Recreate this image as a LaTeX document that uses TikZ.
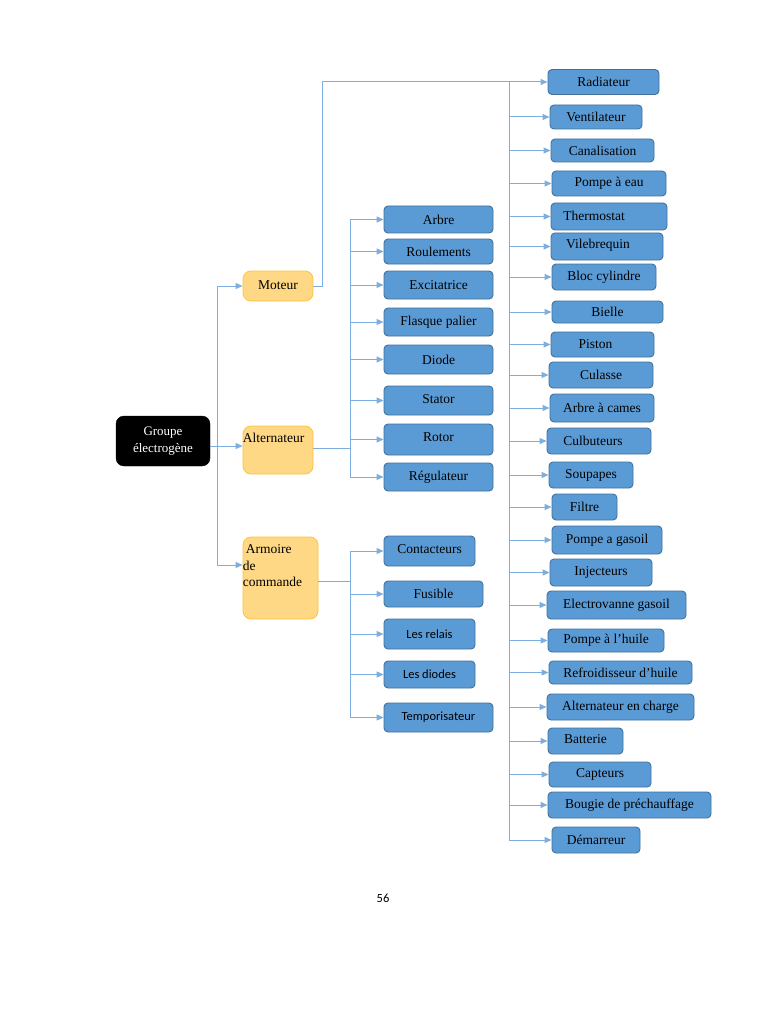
\documentclass[tikz,border=0pt]{standalone}
\usepackage{fontspec}
\setmainfont{Liberation Serif}
\newfontfamily\calfont{Carlito}
\usetikzlibrary{arrows.meta}
\definecolor{bfill}{HTML}{5B9BD5}
\definecolor{bdraw}{HTML}{41719C}
\definecolor{ofill}{HTML}{FFD885}
\definecolor{odraw}{HTML}{FFC43A}
\definecolor{conn}{HTML}{7EAEDD}
\begin{document}
\begin{tikzpicture}[x=1pt,y=-1pt,
  bb/.style={draw=bdraw, fill=bfill, rounded corners=4pt, line width=0.9pt, inner sep=0pt, font=\fontsize{13.5}{15}\selectfont},
  sb/.style={bb, font=\calfont\fontsize{12.5}{14}\selectfont},
  ob/.style={draw=odraw, fill=ofill, rounded corners=8pt, line width=0.8pt, inner sep=0pt, font=\fontsize{13.5}{16.5}\selectfont},
  rootbox/.style={draw=black, fill=black, rounded corners=8pt, inner sep=0pt, text=white, align=center, font=\fontsize{13}{17}\selectfont},
  ln/.style={draw=conn, line width=1pt},
  ar/.style={ln, -{Triangle[length=7pt,width=6pt]}},
]
\path[fill=white] (0,0) rectangle (768,1024);
\useasboundingbox (0,0) rectangle (768,1024);

% root and level 1
\node[rootbox, minimum width=94, minimum height=50] (root) at (163,441) {Groupe\\électrogène};
\node[ob, minimum width=70, minimum height=30] (moteur) at (278,286) {\raisebox{1.5pt}{Moteur}};
\node[ob, minimum width=70, minimum height=48,
  label={[anchor=north west, inner sep=0pt, font=\fontsize{13.5}{15}\selectfont, yshift=-7pt]north west:Alternateur}] (alt) at (278,450) {};
\node[ob, minimum width=75, minimum height=82,
  label={[anchor=north west, inner sep=0pt, align=left, font=\fontsize{13.5}{16.5}\selectfont, yshift=-8pt]north west:\hspace*{3pt}Armoire\\de\\commande}] (arm) at (280.5,578) {};

% middle column (alternateur)
\node[bb, minimum width=109, minimum height=27] (arbre) at (438.5,219.5) {Arbre};
\node[bb, minimum width=109, minimum height=25] (roul) at (438.5,251.5) {Roulements};
\node[bb, minimum width=109, minimum height=28] (exci) at (438.5,285) {Excitatrice};
\node[bb, minimum width=109, minimum height=28] (flas) at (438.5,322) {Flasque palier};
\node[bb, minimum width=109, minimum height=29] (diode) at (438.5,359.5) {Diode};
\node[bb, minimum width=109, minimum height=29] (stator) at (438.5,400.5) {\raisebox{2pt}{Stator}};
\node[bb, minimum width=109, minimum height=31] (rotor) at (438.5,439.5) {\raisebox{4pt}{Rotor}};
\node[bb, minimum width=109, minimum height=28] (regu) at (438.5,477) {Régulateur};

% middle column (armoire)
\node[bb, minimum width=91, minimum height=30] (cont) at (429.5,551) {\raisebox{3pt}{Contacteurs}};
\node[bb, minimum width=99, minimum height=26] (fusi) at (433.5,594) {Fusible};
\node[sb, minimum width=91, minimum height=30] (relais) at (429.5,634) {Les relais};
\node[sb, minimum width=91, minimum height=27] (diodes) at (429.5,674.5) {Les diodes};
\node[sb, minimum width=109, minimum height=29] (tempo) at (438.5,717.5) {Temporisateur};

% right column (moteur)
\node[bb, minimum width=111, minimum height=25] (radi) at (603.5,82) {Radiateur};
\node[bb, minimum width=92, minimum height=24] (vent) at (596,117) {Ventilateur};
\node[bb, minimum width=103, minimum height=23] (cana) at (602.5,150.5) {Canalisation};
\node[bb, minimum width=114, minimum height=25] (pomp) at (609,183.5) {Pompe à eau};
\node[bb, minimum width=116, minimum height=27,
  label={[inner sep=0pt, font=\fontsize{13.5}{15}\selectfont, xshift=-15pt, yshift=1pt]center:Thermostat}] (therm) at (609,216.5) {};
\node[bb, minimum width=112, minimum height=27,
  label={[inner sep=0pt, font=\fontsize{13.5}{15}\selectfont, xshift=-9pt, yshift=1pt]center:Vilebrequin}] (vile) at (607,246.5) {};
\node[bb, minimum width=104, minimum height=26] (bloc) at (604,277) {Bloc cylindre};
\node[bb, minimum width=111, minimum height=22] (biel) at (607.5,312) {Bielle};
\node[bb, minimum width=103, minimum height=25] (pist) at (602.5,344.5) {\hspace*{-14pt}Piston};
\node[bb, minimum width=104, minimum height=26] (cula) at (601,375) {Culasse};
\node[bb, minimum width=104, minimum height=28] (came) at (602,408) {Arbre à cames};
\node[bb, minimum width=104, minimum height=26] (culb) at (599,441) {\hspace*{-12pt}Culbuteurs};
\node[bb, minimum width=84, minimum height=26] (soup) at (591,475) {Soupapes};
\node[bb, minimum width=65, minimum height=26] (filt) at (584.5,507) {Filtre};
\node[bb, minimum width=110, minimum height=28] (gaso) at (607,540) {Pompe a gasoil};
\node[bb, minimum width=102, minimum height=27] (inje) at (601,572.5) {Injecteurs};
\node[bb, minimum width=139, minimum height=28] (elec) at (616.5,605) {Electrovanne gasoil};
\node[bb, minimum width=116, minimum height=23] (huil) at (606,640.5) {Pompe à l’huile};
\node[bb, minimum width=143, minimum height=23] (refr) at (620.5,672.5) {Refroidisseur d’huile};
\node[bb, minimum width=147, minimum height=26] (altc) at (620.5,707) {Alternateur en charge};
\node[bb, minimum width=75, minimum height=26] (batt) at (585.5,741) {\raisebox{3pt}{Batterie}};
\node[bb, minimum width=102, minimum height=25] (capt) at (600,774.5) {Capteurs};
\node[bb, minimum width=163, minimum height=26] (boug) at (629.5,805) {Bougie de préchauffage};
\node[bb, minimum width=88, minimum height=26] (dema) at (596,840) {Démarreur};

% page number
\node[font=\calfont\fontsize{12.5}{14}\selectfont] (page) at (383,898) {56};

% named connector ends
\coordinate (rt) at (217,0);
\coordinate (mt) at (322,0);
\coordinate (rc) at (509,0);
\coordinate (mc) at (350,0);
\coordinate (rootout) at ([yshift=-5pt]root.east);
\coordinate (altin) at ([yshift=4pt]alt.west);
\coordinate (armin) at ([yshift=13pt]arm.west);
\coordinate (altout) at ([yshift=2pt]alt.east);
\coordinate (armout) at ([yshift=-3pt]arm.east);

% connectors: root to level 1
\draw[ln] (rt |- moteur.west) -- (rt |- armin);
\draw[ar] (rootout) -- (rootout -| altin);
\draw[ar] (rt |- moteur.west) -- (moteur.west);
\draw[ar] (rt |- armin) -- (armin);

% moteur to right column
\draw[ar] (moteur.east) -| (mt |- radi.west) -- (radi.west);
\draw[ln] (rc |- radi.west) -- (rc |- dema.west);
\foreach \n in {vent,cana,pomp,therm,vile,bloc,biel,pist,cula,came,culb,soup,filt,gaso,inje,elec,huil,refr,altc,batt,capt,boug,dema}
  \draw[ar] (rc |- \n.west) -- (\n.west);

% alternateur to middle column
\draw[ln] (altout) -- (mc |- altout);
\draw[ln] (mc |- arbre.west) -- (mc |- regu.west);
\foreach \n in {arbre,roul,exci,flas,diode,stator,rotor,regu}
  \draw[ar] (mc |- \n.west) -- (\n.west);

% armoire to its children
\draw[ln] (armout) -- (mc |- armout);
\draw[ln] (mc |- cont.west) -- (mc |- tempo.west);
\foreach \n in {cont,fusi,relais,diodes,tempo}
  \draw[ar] (mc |- \n.west) -- (\n.west);
\end{tikzpicture}
\end{document}
